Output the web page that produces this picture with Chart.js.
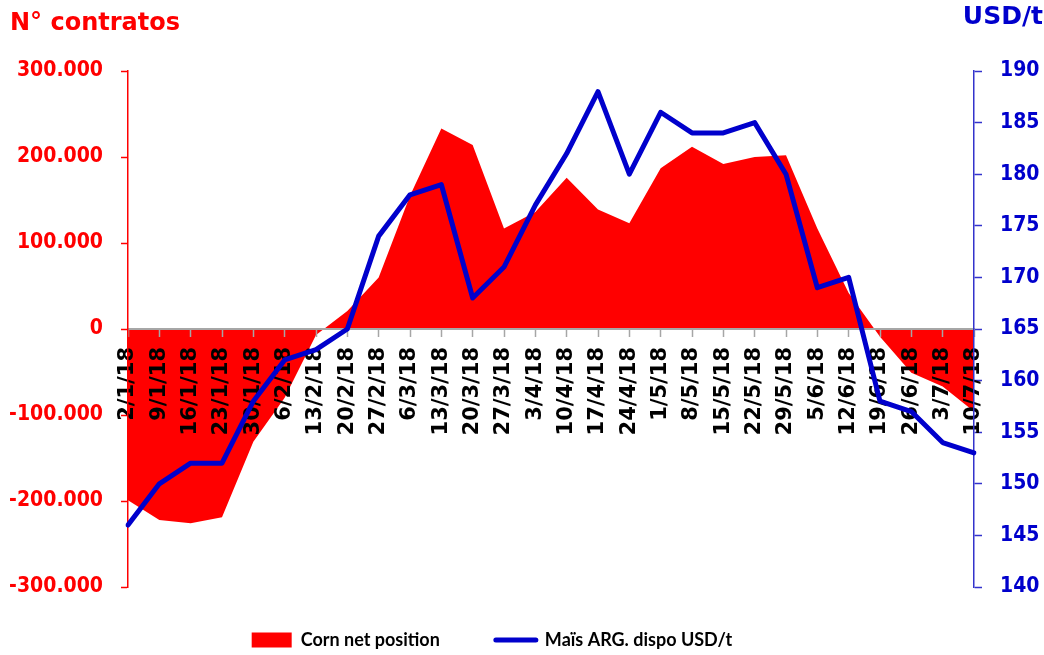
<!DOCTYPE html>
<html>
<head>
<meta charset="utf-8">
<title>Corn net position vs Maïs ARG.</title>
<script src="https://cdn.jsdelivr.net/npm/chart.js@4/dist/chart.umd.min.js"></script>
<style>
  html, body { margin: 0; padding: 0; background: #fff; }
  #wrap { position: relative; width: 1044px; height: 655px; }
  #chart { position: absolute; left: 0; top: 0; }
  .axis-title {
    position: absolute;
    font-family: "DejaVu Sans", sans-serif;
    font-weight: bold;
    white-space: nowrap;
  }
  #titleLeft  { left: 10px; top: 8px; font-size: 24px; color: #FF0000; }
  #titleRight { right: 1px; top: 1px; font-size: 25px; color: #0000CC; }
</style>
</head>
<body>
<div id="wrap">
  <canvas id="chart" width="1044" height="655"></canvas>
  <div id="titleLeft" class="axis-title">N° contratos</div>
  <div id="titleRight" class="axis-title">USD/t</div>
</div>
<script>
// ----- Data -----
const dates = ['2/1/18', '9/1/18', '16/1/18', '23/1/18', '30/1/18', '6/2/18', '13/2/18',
               '20/2/18', '27/2/18', '6/3/18', '13/3/18', '20/3/18', '27/3/18', '3/4/18',
               '10/4/18', '17/4/18', '24/4/18', '1/5/18', '8/5/18', '15/5/18', '22/5/18',
               '29/5/18', '5/6/18', '12/6/18', '19/6/18', '26/6/18', '3/7/18', '10/7/18'];

// Corn net position (n° contratos, left axis)
const netPosition = [-199000, -222000, -226000, -219000, -131000, -80000, -7000,
                     21000, 60000, 155000, 233000, 214000, 117000, 136000,
                     176000, 139000, 123000, 187000, 212000, 192000, 200000,
                     202000, 117000, 42000, -9000, -51000, -67000, -96000];

// Maïs ARG. dispo (USD/t, right axis)
const maizePrice = [146, 150, 152, 152, 158, 162, 163,
                    165, 174, 178, 179, 168, 171, 177,
                    182, 188, 180, 186, 184, 184, 185,
                    180, 169, 170, 158, 157, 154, 153];

const RED  = '#FF0000';
const BLUE = '#0000CC';
const tickFont = { family: '"DejaVu Sans Condensed", "DejaVu Sans", sans-serif', size: 21, weight: 'bold' };

// 100000 -> "100.000"
function dotThousands(v) {
  const s = String(Math.abs(v)).replace(/\B(?=(\d{3})+(?!\d))/g, '.');
  return v < 0 ? '-' + s : s;
}

// move the legend items a bit (left and up), like in the original
const legendShift = {
  id: 'legendShift',
  afterLayout(chart) {
    const lg = chart.legend;
    lg.left -= 30;
    lg.right -= 30;
    lg.top -= 12;   // bottom stays put so the legend clip box keeps the text
  }
};

new Chart(document.getElementById('chart'), {
  type: 'line',
  data: {
    labels: dates,
    datasets: [
      {
        label: 'Corn net position',
        data: netPosition,
        yAxisID: 'y',
        fill: 'origin',
        backgroundColor: RED,
        borderColor: 'rgba(0,0,0,0)',
        borderWidth: 0,
        pointRadius: 0,
        tension: 0,
        order: 2
      },
      {
        label: 'Maïs ARG. dispo USD/t',
        data: maizePrice,
        yAxisID: 'y1',
        fill: false,
        borderColor: BLUE,
        borderWidth: 5,
        borderJoinStyle: 'round',
        borderCapStyle: 'round',
        pointRadius: 0,
        tension: 0,
        order: 1
      }
    ]
  },
  options: {
    responsive: false,
    animation: false,
    layout: { padding: { top: 71, left: 0, right: 0, bottom: 0 } },
    plugins: {
      tooltip: { enabled: false },
      // red area painted first, so the date labels sit on it and the blue line above them
      filler: { drawTime: 'beforeDraw' },
      legend: {
        position: 'bottom',
        maxHeight: 68,
        labels: {
          usePointStyle: true,
          pointStyleWidth: 40,
          boxHeight: 15,
          padding: 56,
          color: '#000',
          font: { family: 'Lato, sans-serif', size: 18, weight: 'bold' },
          generateLabels: () => [
            { text: 'Corn net position', fillStyle: RED, strokeStyle: RED, lineWidth: 0, pointStyle: 'rect', datasetIndex: 0 },
            { text: 'Maïs ARG. dispo USD/t', fillStyle: BLUE, strokeStyle: BLUE, lineWidth: 5, lineCap: 'round', pointStyle: 'line', datasetIndex: 1 }
          ]
        }
      }
    },
    scales: {
      x: {
        position: { y: 0 },
        offset: false,
        grid: { drawOnChartArea: false, offset: false, tickLength: 7, tickColor: '#A6A6A6', tickWidth: 1.5 },
        border: { color: '#A6A6A6', width: 2 },
        ticks: {
          autoSkip: false,
          maxRotation: 90,
          minRotation: 90,
          padding: 11,
          color: '#000',
          font: { family: '"DejaVu Sans", sans-serif', size: 21, weight: 'bold' }
        }
      },
      y: {
        position: 'left',
        min: -300000,
        max: 300000,
        grid: { drawOnChartArea: false, tickLength: 7, tickColor: RED, tickWidth: 1.5 },
        border: { color: RED, width: 1.5 },
        ticks: { stepSize: 100000, padding: 18, color: RED, font: tickFont, callback: v => dotThousands(v) },
        afterFit: s => { s.width = 128; }
      },
      y1: {
        position: 'right',
        min: 140,
        max: 190,
        grid: { drawOnChartArea: false, tickLength: 8, tickColor: '#3333CC', tickWidth: 1.5 },
        border: { color: '#3333CC', width: 1.5 },
        ticks: { stepSize: 5, padding: 18, color: BLUE, font: tickFont },
        afterFit: s => { s.width = 70; }
      }
    }
  },
  plugins: [legendShift]
});
</script>
</body>
</html>
